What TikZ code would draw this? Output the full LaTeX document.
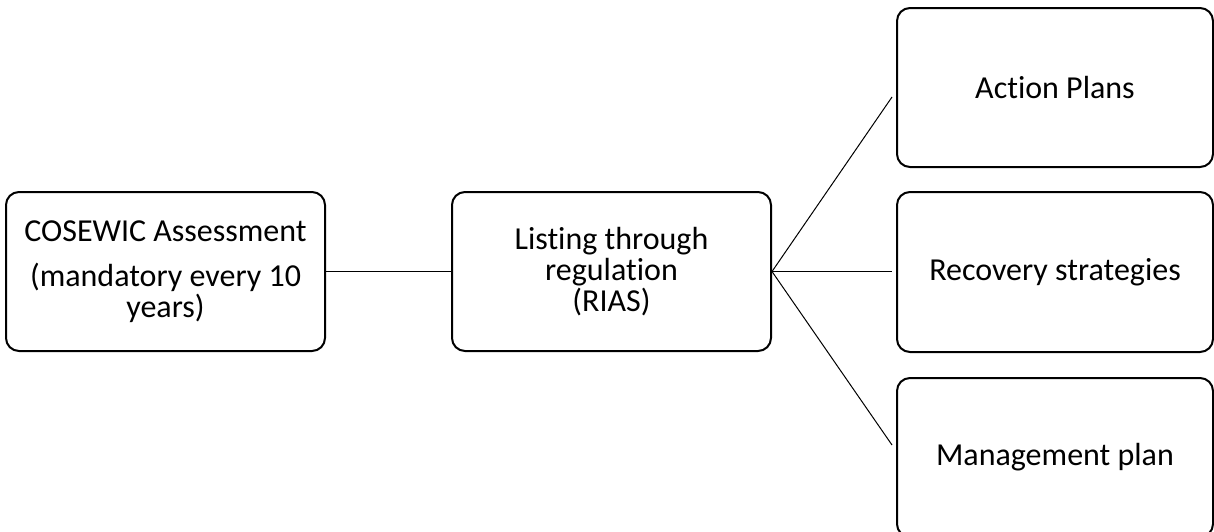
\documentclass[tikz,border=0pt]{standalone}
\usepackage{fontspec}
\setmainfont{Carlito}[Ligatures=CommonOff]
\begin{document}
\begin{tikzpicture}[x=1pt,y=-1pt,
  box/.style={draw=black,line width=2pt,rounded corners=13pt,minimum width=319pt,minimum height=159pt,inner sep=0pt,align=center,font=\fontsize{32}{31}\selectfont},
  conn/.style={draw=black,line width=1pt}]
\useasboundingbox (0,0) rectangle (1214,531);
\clip (0,0) rectangle (1214,531);
\node[box] (cos) at (165.5,271.5) {COSEWIC Assessment\\[14pt](mandatory every 10\\years)};
\node[box] (lst) at (611.5,271.5) {Listing through\\regulation\\(RIAS)};
\node[box,minimum width=316pt] (act) at (1055,87.5) {Action Plans};
\node[box,minimum width=316pt,minimum height=160pt] (rec) at (1055,272) {Recovery strategies};
\node[box,minimum width=316pt] (mgt) at (1055,457.5) {Management plan};
\coordinate (e1) at (892,97);
\coordinate (e2) at (892,271.5);
\coordinate (e3) at (892,445);
\draw[conn] (cos.east) -- (lst.west);
\draw[conn] (lst.east) -- (e1);
\draw[conn] (lst.east) -- (e2);
\draw[conn] (lst.east) -- (e3);
\end{tikzpicture}
\end{document}
